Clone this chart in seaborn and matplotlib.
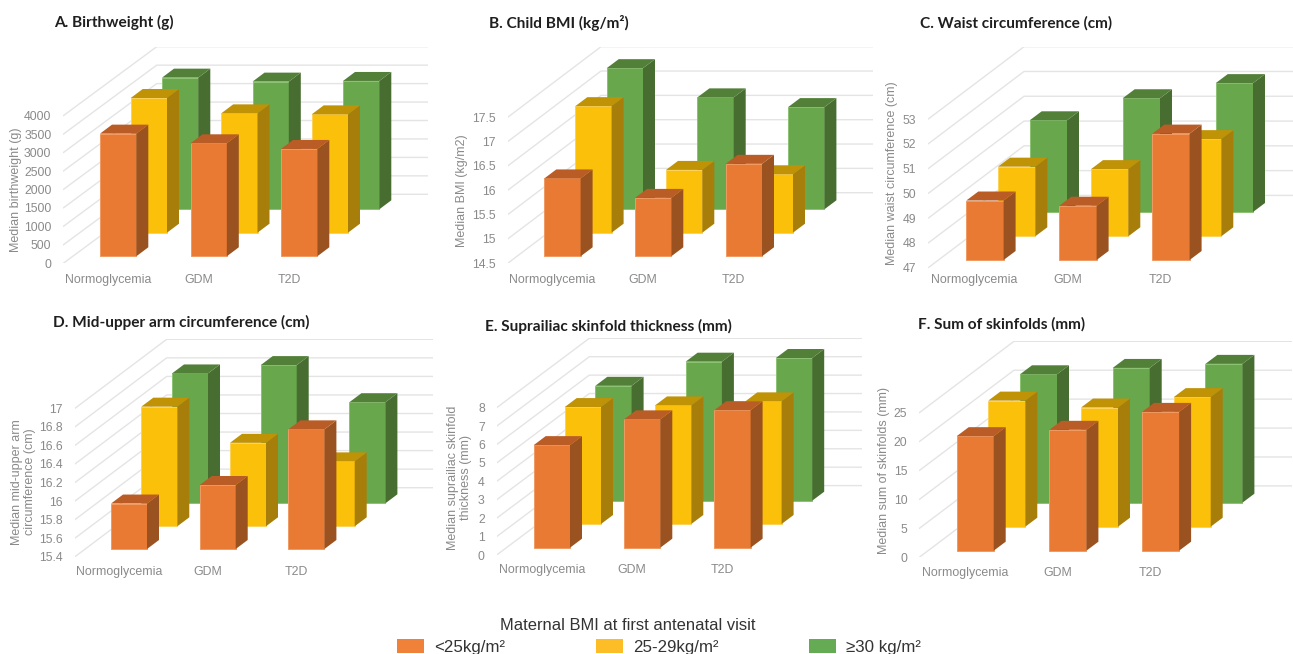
import numpy as np
import matplotlib
matplotlib.use("Agg")
import matplotlib.pyplot as plt
from matplotlib.patches import Patch, Polygon
import seaborn as sns

# Category and group names
groups = ["Normoglycemia", "GDM", "T2D"]
bmi_labels = ["<25kg/m²", "25-29kg/m²", "≥30 kg/m²"]

# Medians by maternal BMI group: <25, 25-29, >=30
birthweight = [[3324, 3062, 2909], [3650, 3234, 3207], [3568, 3460, 3478]]
child_bmi = [[16.10, 15.70, 16.40], [17.10, 15.79, 15.70], [17.40, 16.80, 16.60]]
waist = [[49.40, 49.19, 52.10], [49.81, 49.71, 50.92], [50.70, 51.59, 52.20]]
muac = [[15.89, 16.09, 16.69], [16.69, 16.30, 16.10], [16.80, 16.89, 16.49]]
suprailiac = [[5.57, 6.97, 7.47], [6.35, 6.44, 6.66], [6.24, 7.55, 7.75]]
skinfolds = [[19.8, 20.9, 24.0], [21.8, 20.6, 22.4], [22.2, 23.3, 24.0]]

# Value-axis ticks
birthweight_ticks = [0, 500, 1000, 1500, 2000, 2500, 3000, 3500, 4000]
child_bmi_ticks = [14.5, 15, 15.5, 16, 16.5, 17, 17.5]
waist_ticks = [47, 48, 49, 50, 51, 52, 53]
muac_ticks = [15.4, 15.6, 15.8, 16, 16.2, 16.4, 16.6, 16.8, 17]
suprailiac_ticks = [0, 1, 2, 3, 4, 5, 6, 7, 8]
skinfolds_ticks = [0, 5, 10, 15, 20, 25]

W, H = 1293, 654

# Face colours per BMI group: front, side, top, edge
shades = [
    ("#E97A33", "#9A5320", "#B95C25", "#F09A62"),
    ("#FBC00A", "#A87E0A", "#C09206", "#FCD25A"),
    ("#68A74B", "#476D31", "#538039", "#8CC274"),
]

# Oblique-projection layout of each panel, in figure pixels
panels = [
    dict(title="A. Birthweight (g)", title_xy=(54, 26.7), values=birthweight, ticks=birthweight_ticks,
         ylabel="Median birthweight (g)", ylabel_xy=(16.5, 190),
         front_x=63.3, front_low=263.3, front_high=115.7, back_x=156.7, back_high=46.7, right=427.7,
         lefts=(100.0, 130.7, 162.0), bases=(256.3, 232.7, 209.3), width=36.3, step=90.5, xlabel_gap=10.5),
    dict(title="B. Child BMI (kg/m²)", title_xy=(489, 28), values=child_bmi, ticks=child_bmi_ticks,
         ylabel="Median BMI (kg/m2)", ylabel_xy=(462.5, 191),
         front_x=507.7, front_low=263.3, front_high=117.3, back_x=601.0, back_high=46.7, right=873,
         lefts=(544.3, 575.3, 606.7), bases=(256.3, 232.7, 209.3), width=36.3, step=90.7, xlabel_gap=10.5),
    dict(title="C. Waist circumference (cm)", title_xy=(920, 28), values=waist, ticks=waist_ticks,
         ylabel="Median waist circumference (cm)", ylabel_xy=(892.5, 173),
         front_x=928.3, front_low=267.7, front_high=119.0, back_x=1024.0, back_high=46.7, right=1293,
         lefts=(966.3, 998.0, 1029.7), bases=(260.0, 236.3, 212.0), width=37.3, step=93.0, xlabel_gap=6.5),
    dict(title="D. Mid-upper arm circumference (cm)", title_xy=(53, 327), values=muac, ticks=muac_ticks,
         ylabel="Median mid-upper arm\ncircumference (cm)", ylabel_xy=(23.5, 482),
         front_x=75.0, front_low=556.7, front_high=408.3, back_x=166.7, back_high=339.3, right=433.3,
         lefts=(111.0, 141.3, 172.0), bases=(549.0, 526.3, 503.3), width=36.0, step=88.7, xlabel_gap=9.5),
    dict(title="E. Suprailiac skinfold thickness (mm)", title_xy=(485, 331), values=suprailiac, ticks=suprailiac_ticks,
         ylabel="Median suprailiac skinfold\nthickness (mm)", ylabel_xy=(459.5, 478),
         front_x=496.7, front_low=555.0, front_high=407.7, back_x=589.3, back_high=338.3, right=861.7,
         lefts=(533.7, 564.7, 595.3), bases=(547.7, 524.0, 500.7), width=36.3, step=90.3, xlabel_gap=9.2),
    dict(title="F. Sum of skinfolds (mm)", title_xy=(918, 329), values=skinfolds, ticks=skinfolds_ticks,
         ylabel="Median sum of skinfolds (mm)", ylabel_xy=(884, 471),
         front_x=919.3, front_low=557.3, front_high=412.7, back_x=1014.0, back_high=341.3, right=1291.7,
         lefts=(956.7, 988.3, 1020.0), bases=(550.7, 526.7, 502.7), width=37.0, step=92.7, xlabel_gap=9.8),
]

DEPTH_X, DEPTH_Y = 12.0, 9.0   # bar depth in pixels
GRID = "#E4E4E4"
INK = "#8A8A8A"

sns.set_theme(style="white")
plt.rcParams["font.family"] = ["Liberation Sans", "DejaVu Sans"]

fig = plt.figure(figsize=(W / 100, H / 100), dpi=100, facecolor="white")


def draw_panel(p):
    ticks = p["ticks"]
    low, high = ticks[0], ticks[-1]
    unit_px = (p["front_low"] - p["front_high"]) / (high - low)
    wall_lift = (p["front_high"] - p["back_high"]) / unit_px

    ax = fig.add_axes([
        p["front_x"] / W, 1 - p["front_low"] / H,
        (p["right"] - p["front_x"]) / W, (p["front_low"] - p["back_high"]) / H,
    ])
    ax.patch.set_visible(False)

    step = p["step"]
    centre = p["lefts"][0] + p["width"] / 2
    xlim = ((p["front_x"] - centre) / step, (p["right"] - centre) / step)
    ylim = (low, high + wall_lift)
    dx, dy = DEPTH_X / step, DEPTH_Y / unit_px

    # Floor and back-wall gridlines
    wall_x = xlim[0] + (p["back_x"] - p["front_x"]) / step
    for v in ticks:
        ax.plot([xlim[0], wall_x, xlim[1]], [v, v + wall_lift, v + wall_lift],
                color=GRID, lw=1.0, zorder=0, solid_joinstyle="miter")

    # Rear series first so nearer bars cover it
    for k in (2, 1, 0):
        front, side, top, edge = shades[k]
        offset = (p["lefts"][k] - p["lefts"][0]) / step
        lift = (p["front_low"] - p["bases"][k]) / unit_px
        xs = np.arange(len(groups)) + offset
        heights = np.asarray(p["values"][k], dtype=float) - low
        sns.barplot(x=xs, y=heights, bottom=low + lift, native_scale=True, ax=ax,
                    width=p["width"] / step, color=front, saturation=1, errorbar=None,
                    edgecolor=edge, linewidth=0.7, zorder=1)
        for bar in ax.containers[-1]:
            x0, y0 = bar.get_x(), bar.get_y()
            bw, bh = bar.get_width(), bar.get_height()
            ax.add_patch(Polygon([(x0 + bw, y0), (x0 + bw + dx, y0 + dy),
                                  (x0 + bw + dx, y0 + bh + dy), (x0 + bw, y0 + bh)],
                                 closed=True, facecolor=side, edgecolor="none", zorder=1))
            ax.add_patch(Polygon([(x0, y0 + bh), (x0 + bw, y0 + bh),
                                  (x0 + bw + dx, y0 + bh + dy), (x0 + dx, y0 + bh + dy)],
                                 closed=True, facecolor=top, edgecolor="none", zorder=1))

    ax.set_xlim(*xlim)
    ax.set_ylim(*ylim)
    for spine in ax.spines.values():
        spine.set_visible(False)

    # Group labels sit under the front-left part of each bar cluster
    tick_shift = (8.0 - p["width"] / 2) / step
    ax.set_xticks(np.arange(len(groups)) + tick_shift, groups)
    ax.set_yticks(ticks, [f"{v:g}" for v in ticks])
    ax.tick_params(axis="x", length=0, pad=p["xlabel_gap"] * 0.72, labelsize=8.9, labelcolor=INK)
    ax.tick_params(axis="y", length=0, pad=8.6, labelsize=8.8, labelcolor=INK)
    ax.set_xlabel("")
    ax.set_ylabel(p["ylabel"], fontsize=9.0, color=INK, va="center", linespacing=1.05)
    ax.yaxis.set_label_coords(p["ylabel_xy"][0] / W, 1 - p["ylabel_xy"][1] / H,
                              transform=fig.transFigure)

    fig.text(p["title_xy"][0] / W, 1 - p["title_xy"][1] / H, p["title"],
             family="Lato", weight="bold", fontsize=11.1, color="#1F1F1F", va="baseline", ha="left")


for panel in panels:
    draw_panel(panel)

# Shared key along the bottom edge
fig.text(627.5 / W, 1 - 626 / H, "Maternal BMI at first antenatal visit",
         fontsize=11.9, color="#333333", ha="center", va="center")
handle_colors = ["#EF8139", "#FCBD26", "#65AB54"]
handles = [Patch(facecolor=c, edgecolor="none", label=t) for c, t in zip(handle_colors, bmi_labels)]
fig.legend(handles=handles, ncol=3, loc="lower center", bbox_to_anchor=(659 / W, -1 / H),
           frameon=False, fontsize=12.2, labelcolor="#333333", borderpad=0, borderaxespad=0,
           handlelength=1.6, handleheight=0.95, handletextpad=0.59, columnspacing=5.37)

fig.savefig("out.png", dpi=100, facecolor="white")
